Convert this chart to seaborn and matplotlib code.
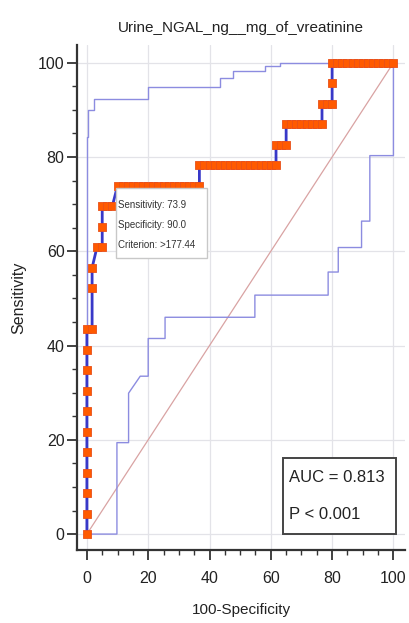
import numpy as np
import pandas as pd
import matplotlib
matplotlib.use("Agg")
import matplotlib.pyplot as plt
import seaborn as sns
from matplotlib.ticker import MultipleLocator
from matplotlib.patches import Rectangle

# ---------------- data ----------------
title = "Urine_NGAL_ng__mg_of_vreatinine"
xlabel = "100-Specificity"
ylabel = "Sensitivity"

# main ROC curve (100-specificity, sensitivity) at each criterion
main_fpr = [0, 0, 0, 0, 0, 0, 0, 0, 0, 0, 0,
            1.7, 1.7, 1.7,
            3.3, 5.0,
            5.0, 5.0, 6.7, 8.3,
            10.0, 11.7, 13.3, 15.0, 16.7, 18.3, 20.0, 21.7, 23.3, 25.0, 26.7, 28.3,
            30.0, 31.7, 33.3, 35.0, 36.7,
            36.7, 38.3, 40.0, 41.7, 43.3, 45.0, 46.7, 48.3, 50.0, 51.7, 53.3, 55.0,
            56.7, 58.3, 60.0, 61.7,
            61.7, 63.3, 65.0,
            65.0, 66.7, 68.3, 70.0, 71.7, 73.3, 75.0, 76.7,
            76.7, 78.3, 80.0,
            80.0,
            80.0, 81.7, 83.3, 85.0, 86.7, 88.3, 90.0, 91.7, 93.3, 95.0, 96.7, 98.3, 100.0]
main_tpr = [0, 4.3, 8.7, 13.0, 17.4, 21.7, 26.1, 30.4, 34.8, 39.1, 43.5,
            43.5, 52.2, 56.5,
            60.9, 60.9,
            65.2, 69.6, 69.6, 69.6,
            73.9, 73.9, 73.9, 73.9, 73.9, 73.9, 73.9, 73.9, 73.9, 73.9, 73.9, 73.9,
            73.9, 73.9, 73.9, 73.9, 73.9,
            78.3, 78.3, 78.3, 78.3, 78.3, 78.3, 78.3, 78.3, 78.3, 78.3, 78.3, 78.3,
            78.3, 78.3, 78.3, 78.3,
            82.6, 82.6, 82.6,
            87.0, 87.0, 87.0, 87.0, 87.0, 87.0, 87.0, 87.0,
            91.3, 91.3, 91.3,
            95.7,
            100, 100, 100, 100, 100, 100, 100, 100, 100, 100, 100, 100, 100]

# 95% confidence bounds
upper_x = [0, 0, 0.5, 0.5, 2.2, 2.2, 20, 20, 43.4, 43.4, 47.7, 47.7, 58, 58, 63, 63, 100]
upper_y = [0, 84.3, 84.3, 89.9, 89.9, 92.3, 92.3, 94.8, 94.8, 96.7, 96.7, 98.2, 98.2,
           99.4, 99.4, 100, 100]
lower_x = [0, 9.8, 9.8, 13.6, 13.6, 17.4, 20, 20, 25.5, 25.5, 54.8, 54.8, 78.7, 78.7,
           82, 82, 89.6, 89.6, 92.3, 92.3, 100, 100]
lower_y = [0, 0, 19.4, 19.4, 29.9, 33.5, 33.5, 41.5, 41.5, 46.0, 46.0, 50.7, 50.7, 55.6,
           55.6, 60.8, 60.8, 66.4, 66.4, 80.3, 80.3, 100]

diag = [0, 100]
ticks = [0, 20, 40, 60, 80, 100]

crit_text = ["Sensitivity: 73.9", "Specificity: 90.0", "Criterion: >177.44"]
auc_text = ["AUC = 0.813", "P < 0.001"]

# ---------------- plot ----------------
sns.set_style("ticks")
plt.rcParams["font.family"] = ["Liberation Sans", "DejaVu Sans"]

fig = plt.figure(figsize=(4.10, 6.23), dpi=100)
ax = fig.add_axes([0.188, 0.117, 0.800, 0.811])

for v in ticks:
    ax.axvline(v, color="#e3e3e8", lw=0.9, zorder=0)
    ax.axhline(v, color="#e3e3e8", lw=0.9, zorder=0)

sns.lineplot(x=diag, y=diag, ax=ax, color="#d9a3a3", lw=0.9, zorder=1)
band_u = pd.DataFrame({"x": upper_x, "y": upper_y})
band_l = pd.DataFrame({"x": lower_x, "y": lower_y})
sns.lineplot(data=band_u, x="x", y="y", sort=False, estimator=None, ax=ax,
             color="#8c8ce0", lw=1.0, zorder=2)
sns.lineplot(data=band_l, x="x", y="y", sort=False, estimator=None, ax=ax,
             color="#8c8ce0", lw=1.0, zorder=2)

main = pd.DataFrame({"fpr": main_fpr, "tpr": main_tpr})
sns.lineplot(data=main, x="fpr", y="tpr", sort=False, estimator=None, ax=ax,
             color="#3838c8", lw=2.0, zorder=3)
sns.scatterplot(data=main, x="fpr", y="tpr", ax=ax, marker="s", s=38,
                color="#ff5a00", edgecolor="#e8501a", linewidth=0.6, zorder=4)

ax.set_xlim(-3.2, 103.8)
ax.set_ylim(-3.4, 103.8)
ax.set_xticks(ticks)
ax.set_yticks(ticks)
ax.xaxis.set_minor_locator(MultipleLocator(5))
ax.yaxis.set_minor_locator(MultipleLocator(5))
ax.tick_params(which="major", length=7, width=1.3, color="#333333",
               labelsize=11.5, labelcolor="#222222", pad=2)
ax.tick_params(axis="x", which="major", pad=8)
ax.tick_params(which="minor", length=3.5, width=1.0, color="#333333")
for s in ["top", "right"]:
    ax.spines[s].set_visible(False)
for s in ["left", "bottom"]:
    ax.spines[s].set_color("#333333")
    ax.spines[s].set_linewidth(1.6)

ax.set_xlabel(xlabel, fontsize=11, color="#222222")
ax.xaxis.set_label_coords(0.5, -0.105)
ax.set_ylabel(ylabel, fontsize=11.5, color="#222222")
ax.yaxis.set_label_coords(-0.155, 0.5)
ax.set_title(title, fontsize=11, color="#222222", pad=9)

# criterion annotation box
ax.add_patch(Rectangle((9.5, 58.6), 29.6, 14.9, fc="white", ec="#c8c8c8",
                       lw=1.0, zorder=5))
for i, t in enumerate(crit_text):
    ax.text(10.3, 69.9 - 4.3 * i, t, fontsize=7, color="#333333",
            va="center", ha="left", zorder=6)

# AUC box
ax.add_patch(Rectangle((63.9, 0.0), 36.8, 16.1, fc="white", ec="#444444",
                       lw=1.4, zorder=5))
for i, t in enumerate(auc_text):
    ax.text(66.0, 11.9 - 7.7 * i, t, fontsize=12, color="#222222",
            va="center", ha="left", zorder=6)

fig.savefig("out.png", dpi=100)
